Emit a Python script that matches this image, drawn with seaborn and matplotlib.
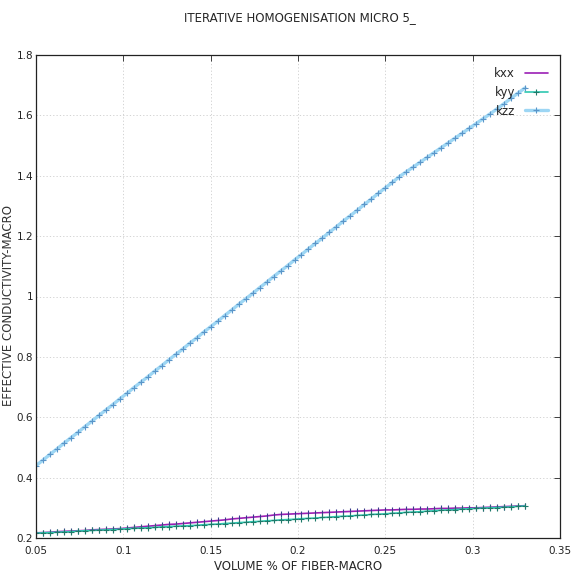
import numpy as np
import pandas as pd
import matplotlib
matplotlib.use("Agg")
import matplotlib.pyplot as plt
import seaborn as sns
from matplotlib import font_manager

# ---- data ----
vol_fraction = [round(0.05 + 0.004 * i, 3) for i in range(71)]

kxx = [0.217, 0.218, 0.219, 0.221, 0.222, 0.223, 0.224, 0.225, 0.227, 0.228,
       0.229, 0.230, 0.231, 0.233, 0.235, 0.237, 0.239, 0.241, 0.243, 0.245,
       0.246, 0.248, 0.250, 0.252, 0.254, 0.256, 0.258, 0.260, 0.263, 0.265,
       0.267, 0.269, 0.271, 0.273, 0.276, 0.278, 0.279, 0.280, 0.281, 0.282,
       0.283, 0.284, 0.285, 0.286, 0.287, 0.288, 0.289, 0.290, 0.291, 0.292,
       0.293, 0.293, 0.294, 0.295, 0.295, 0.296, 0.296, 0.297, 0.298, 0.298,
       0.299, 0.299, 0.300, 0.300, 0.301, 0.302, 0.303, 0.304, 0.305, 0.306,
       0.307]

kyy = [0.216, 0.217, 0.218, 0.219, 0.220, 0.221, 0.223, 0.224, 0.225, 0.226,
       0.227, 0.228, 0.229, 0.231, 0.232, 0.233, 0.234, 0.235, 0.237, 0.238,
       0.239, 0.240, 0.241, 0.242, 0.244, 0.245, 0.246, 0.248, 0.249, 0.251,
       0.252, 0.254, 0.255, 0.257, 0.258, 0.260, 0.261, 0.262, 0.264, 0.265,
       0.266, 0.268, 0.269, 0.271, 0.272, 0.273, 0.275, 0.276, 0.278, 0.279,
       0.280, 0.282, 0.283, 0.285, 0.286, 0.287, 0.289, 0.290, 0.292, 0.293,
       0.294, 0.296, 0.297, 0.298, 0.299, 0.300, 0.301, 0.302, 0.303, 0.305,
       0.306]

kzz = [0.440, 0.458, 0.477, 0.495, 0.514, 0.532, 0.550, 0.569, 0.587, 0.606,
       0.624, 0.642, 0.661, 0.679, 0.698, 0.716, 0.734, 0.753, 0.771, 0.790,
       0.808, 0.826, 0.845, 0.863, 0.882, 0.900, 0.918, 0.937, 0.955, 0.974,
       0.992, 1.010, 1.029, 1.047, 1.066, 1.084, 1.102, 1.121, 1.139, 1.158,
       1.176, 1.194, 1.213, 1.231, 1.250, 1.268, 1.286, 1.305, 1.323, 1.342,
       1.360, 1.378, 1.397, 1.413, 1.429, 1.445, 1.461, 1.477, 1.493, 1.509,
       1.525, 1.541, 1.557, 1.573, 1.589, 1.605, 1.622, 1.639, 1.657, 1.674,
       1.691]

x_ticks = [0.05, 0.1, 0.15, 0.2, 0.25, 0.3, 0.35]
x_tick_labels = ["0.05", "0.1", "0.15", "0.2", "0.25", "0.3", "0.35"]
y_ticks = [0.2, 0.4, 0.6, 0.8, 1.0, 1.2, 1.4, 1.6, 1.8]
y_tick_labels = ["0.2", "0.4", "0.6", "0.8", "1", "1.2", "1.4", "1.6", "1.8"]

title = "ITERATIVE HOMOGENISATION MICRO 5_"
x_label = "VOLUME % OF FIBER-MACRO"
y_label = "EFFECTIVE CONDUCTIVITY-MACRO"

# ---- style ----
sns.set_style("white")
names = {f.name for f in font_manager.fontManager.ttflist}
narrow = "Liberation Sans Narrow" if "Liberation Sans Narrow" in names else "DejaVu Sans"
plt.rcParams["font.family"] = [narrow, "DejaVu Sans"]

fig = plt.figure(figsize=(5.71, 5.87), dpi=100)
ax = fig.add_axes([36 / 571, 1 - 538 / 587, (560 - 36) / 571, (538 - 55) / 587])

df = pd.DataFrame({"x": vol_fraction, "kxx": kxx, "kyy": kyy, "kzz": kzz})

sns.lineplot(data=df, x="x", y="kxx", ax=ax, color="#9b1fb5", lw=1.2,
             marker="|", markersize=4, markeredgecolor="#3a3a8c",
             markeredgewidth=0.8, label="kxx")
sns.lineplot(data=df, x="x", y="kyy", ax=ax, color="#2fc7b0", lw=1.2,
             marker="+", markersize=4, markeredgecolor="#1f7a6a",
             markeredgewidth=0.8, label="kyy")
sns.lineplot(data=df, x="x", y="kzz", ax=ax, color="#9dd6f4", lw=2.4,
             marker="+", markersize=4, markeredgecolor="#5b95c8",
             markeredgewidth=0.8, label="kzz")

ax.set_xlim(0.05, 0.35)
ax.set_ylim(0.2, 1.8)
ax.set_xticks(x_ticks)
ax.set_xticklabels(x_tick_labels)
ax.set_yticks(y_ticks)
ax.set_yticklabels(y_tick_labels)
ax.tick_params(direction="in", length=4, width=0.6, labelsize=7.5,
               top=True, right=True, pad=2, colors="#222222")
ax.tick_params(axis="x", pad=6)
ax.grid(True, color="#cccccc", linestyle=(0, (1.5, 2.5)), linewidth=0.6)
for s in ax.spines.values():
    s.set_color("#222222")
    s.set_linewidth(0.9)

ax.set_xlabel(x_label, fontsize=8.5, labelpad=3)
ax.set_ylabel("")
fig.text(9 / 571, 1 - 305 / 587, y_label, rotation=90, ha="center",
         va="center", fontsize=8.5, family="DejaVu Sans", color="#333333")
fig.text(0.525, 1 - 18 / 587, title, ha="center", va="center", fontsize=8.5)

leg = ax.legend(loc="upper right", frameon=False, markerfirst=False,
                fontsize=8.5, handlelength=2.0, borderaxespad=0.6,
                labelspacing=0.5)
leg.legend_handles[0].set_marker("")

fig.savefig("out.png", dpi=100)
